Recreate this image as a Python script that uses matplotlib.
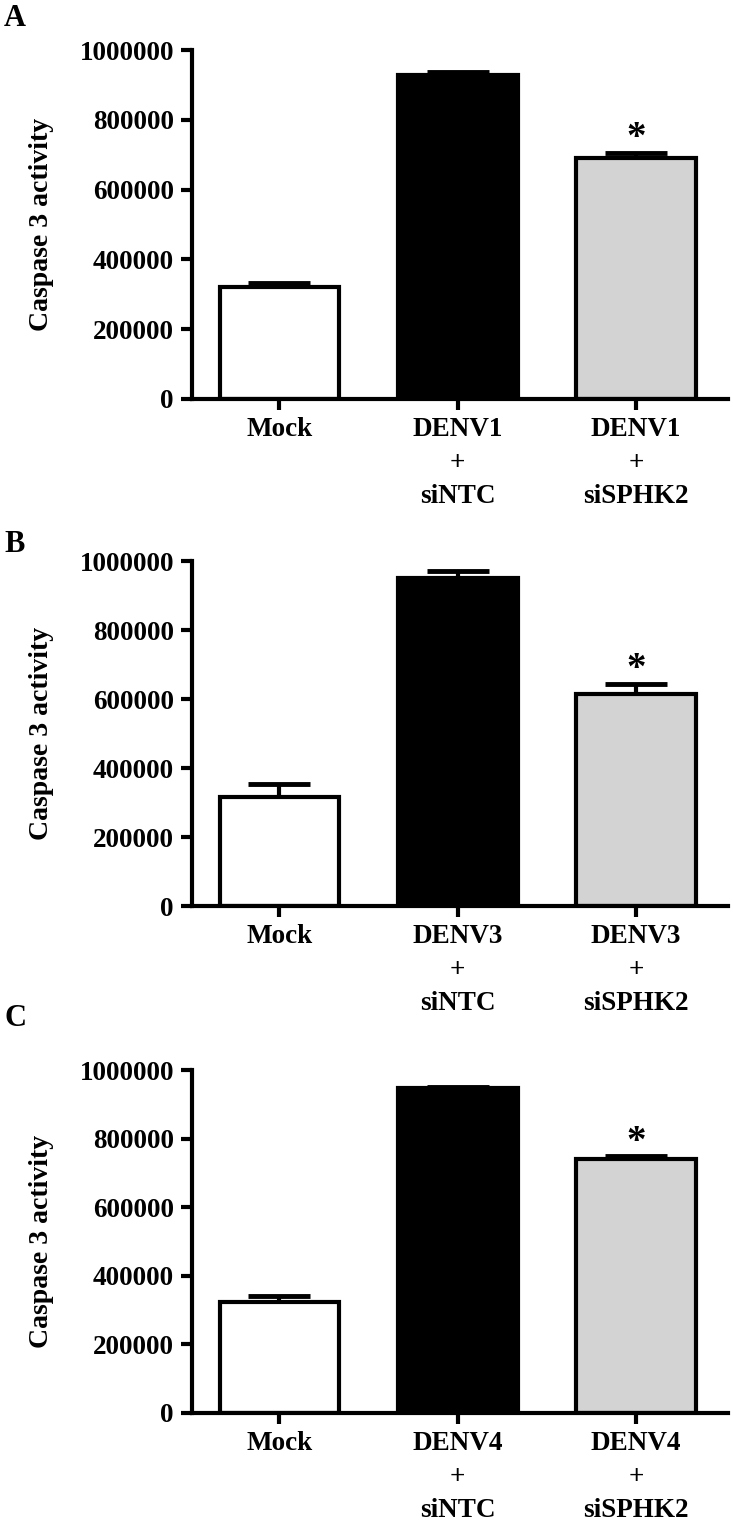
import matplotlib
matplotlib.use('Agg')
import matplotlib.pyplot as plt
import numpy as np

plt.rcParams['font.family'] = ['Liberation Serif', 'DejaVu Serif']
plt.rcParams['font.weight'] = 'bold'

# values
mock_vals = [321000, 316000, 324000]
mock_err = [11000, 38000, 16000]
sintc_vals = [928000, 951000, 947000]
sintc_err = [9000, 20000, 3000]
sisphk2_vals = [690000, 614000, 740000]
sisphk2_err = [15000, 29000, 8000]
virus = ['DENV1', 'DENV3', 'DENV4']
panel_letters = ['A', 'B', 'C']
yticks = [0, 200000, 400000, 600000, 800000, 1000000]

bar_colors = ['white', 'black', '#d3d3d3']

fig = plt.figure(figsize=(7.33, 15.29), dpi=100)
H = 1529.0
W = 733.0
# pixel positions of the axes (left, y of zero line, y of 1e6 line)
axes_px = [(192, 399, 50), (192, 906, 561), (192, 1413, 1070)]
letter_y = [18, 545, 1018]

for i in range(3):
    left, y0, y1 = axes_px[i]
    ax = fig.add_axes([left / W, 1 - y0 / H, 536 / W, (y0 - y1) / H])
    vals = [mock_vals[i], sintc_vals[i], sisphk2_vals[i]]
    errs = [mock_err[i], sintc_err[i], sisphk2_err[i]]
    x = np.arange(3)
    ax.errorbar(x, vals, yerr=[[0, 0, 0], errs], fmt='none', ecolor='black',
                elinewidth=3, capsize=22, capthick=3.5, zorder=1)
    ax.bar(x, vals, width=0.67, color=bar_colors, edgecolor='black',
           linewidth=3, zorder=2)
    # significance star above the siSPHK2 bar
    ax.text(2, vals[2] + errs[2] + 42000, '*', ha='center', va='center',
            fontsize=28, fontweight='bold')
    ax.set_xlim(-0.49, 2.515)
    ax.set_ylim(0, 1000000)
    ax.set_yticks(yticks)
    ax.set_yticklabels([str(t) for t in yticks])
    ax.set_xticks(x)
    ax.set_xticklabels(['Mock', virus[i] + '\n+\nsiNTC', virus[i] + '\n+\nsiSPHK2'],
                       linespacing=1.45)
    for s in ['top', 'right']:
        ax.spines[s].set_visible(False)
    for s in ['left', 'bottom']:
        ax.spines[s].set_linewidth(3)
    ax.tick_params(axis='both', direction='out', length=8, width=3,
                   labelsize=19.5, pad=5)
    for lab in ax.get_xticklabels() + ax.get_yticklabels():
        lab.set_fontweight('bold')
    fig.text(42 / W, 1 - (y0 + y1) / 2 / H, 'Caspase 3 activity', rotation=90,
             ha='center', va='center', fontsize=20, fontweight='bold')
    fig.text(4 / W, 1 - letter_y[i] / H, panel_letters[i], ha='left',
             va='center', fontsize=22, fontweight='bold')

fig.savefig('out.png', dpi=100)
